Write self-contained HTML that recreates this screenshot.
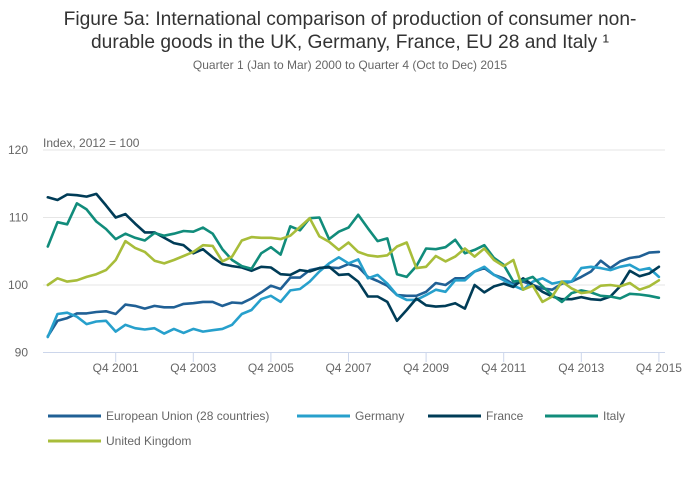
<!DOCTYPE html>
<html><head><meta charset="utf-8"><style>
body{margin:0;background:#fff;}
svg{display:block;font-family:"Liberation Sans",sans-serif;}
</style></head><body>
<svg id="chart" width="700" height="502" viewBox="0 0 700 502" xmlns="http://www.w3.org/2000/svg">
<text x="350" y="25" text-anchor="middle" font-size="19.2" fill="#333">Figure 5a: International comparison of production of consumer non-</text>
<text x="350" y="48" text-anchor="middle" font-size="19.2" fill="#333">durable goods in the UK, Germany, France, EU 28 and Italy ¹</text>
<text x="350" y="69" text-anchor="middle" font-size="12" fill="#666">Quarter 1 (Jan to Mar) 2000 to Quarter 4 (Oct to Dec) 2015</text>
<text x="43" y="147" font-size="12" fill="#666">Index, 2012 = 100</text>
<g id="grid"></g><g id="xaxis"></g><g id="series"></g><g id="legend"></g>
</svg>
<script>
const yTicks=[90,100,110,120];
const xTickLabels=["Q4 2001","Q4 2003","Q4 2005","Q4 2007","Q4 2009","Q4 2011","Q4 2013","Q4 2015"];
const xTickIdx=[7,15,23,31,39,47,55,63];
const seriesNames=["European Union (28 countries)","Germany","France","Italy","United Kingdom"];
const eu=[92.4,94.7,95.1,95.8,95.8,96.0,96.1,95.7,97.1,96.9,96.5,96.9,96.7,96.7,97.2,97.3,97.5,97.5,96.9,97.4,97.3,98.0,98.9,
99.9,99.4,101.1,101.1,102.2,102.5,102.6,102.5,103.1,102.7,101.2,100.6,99.9,98.5,98.4,98.4,99.0,100.3,100.0,101.0,
101.0,102.0,102.5,101.5,101.0,100.1,100.5,100.0,99.5,99.3,100.2,100.5,101.2,102.0,103.6,102.5,103.5,104.0,104.2,104.8,104.9];
const germany=[92.3,95.7,95.9,95.3,94.2,94.6,94.7,93.1,94.1,93.6,93.4,93.6,92.8,93.5,92.9,93.5,93.1,93.3,93.5,94.1,95.7,96.3,97.9,
98.4,97.5,99.2,99.4,100.5,102.0,103.2,104.1,103.2,103.8,101.0,101.5,100.2,98.5,97.8,97.8,98.5,99.3,99.0,100.7,
100.7,102.0,102.7,101.5,100.7,99.9,99.3,100.5,101.0,100.2,100.5,100.5,102.5,102.7,102.5,102.2,102.7,103.0,102.2,102.5,101.2];
const france=[113.0,112.6,113.4,113.3,113.1,113.5,111.8,110.0,110.5,109.1,107.8,107.8,107.0,106.2,105.9,104.7,105.3,104.1,103.1,102.8,102.6,102.1,102.7,
102.6,101.6,101.5,102.2,102.0,102.5,102.7,101.5,101.6,100.5,98.3,98.3,97.5,94.7,96.3,98.0,97.0,96.8,96.9,97.3,
96.5,100.0,98.9,99.8,100.2,99.7,101.0,100.0,99.0,98.3,97.9,97.9,98.2,97.9,97.8,98.3,99.8,102.1,101.3,101.7,102.7];
const italy=[105.7,109.3,109.0,112.1,111.2,109.4,108.3,106.8,107.6,107.0,106.6,107.7,107.3,107.6,108.0,107.9,108.5,107.6,105.3,103.7,102.8,102.4,104.7,
105.6,104.5,108.7,108.1,109.9,110.0,106.8,107.9,108.5,110.4,108.4,106.5,106.9,101.6,101.2,102.8,105.4,105.3,105.6,106.7,
104.7,105.2,105.9,104.0,103.0,100.5,100.7,101.2,99.8,98.5,97.5,98.8,99.2,98.9,98.4,98.3,98.0,98.7,98.6,98.4,98.1];
const uk=[100.0,101.0,100.5,100.7,101.2,101.6,102.2,103.7,106.5,105.5,104.9,103.6,103.2,103.7,104.3,104.9,105.9,105.8,103.5,104.2,106.6,107.1,107.0,
107.0,106.8,107.3,108.6,109.9,107.2,106.4,105.2,106.3,104.9,104.4,104.2,104.4,105.7,106.3,102.5,102.7,104.3,103.5,104.2,
105.4,104.2,105.4,103.7,102.8,103.7,99.3,99.9,97.5,98.3,100.5,99.5,98.8,99.0,99.9,100.0,99.8,100.3,99.3,99.8,100.7];
const seriesData=[eu,germany,france,italy,uk];
const colors=["#206095","#27a0cc","#003c57","#118c7b","#a8bd3a"];
const NS="http://www.w3.org/2000/svg";
const xs=i=>47.8+9.7*i;
const ys=v=>285-(v-100)*6.75;
function mk(tag,attrs,parent){const e=document.createElementNS(NS,tag);for(const k in attrs)e.setAttribute(k,attrs[k]);parent.appendChild(e);return e;}
const grid=document.getElementById('grid');
yTicks.forEach(t=>{
  if(t>90){const l=mk('line',{x1:43,x2:665,y1:ys(t),y2:ys(t),stroke:'#e6e6e6','stroke-width':1},grid);
  
  }
  const tx=mk('text',{x:28,y:ys(t)+4,'text-anchor':'end','font-size':12,fill:'#666'},grid);
  tx.textContent=t;
  
  
});
const xa=document.getElementById('xaxis');
const ax=mk('line',{x1:43,x2:665,y1:352.5,y2:352.5,stroke:'#ccd6eb','stroke-width':1},xa);


xTickIdx.forEach((q,k)=>{
  const tk=mk('line',{x1:xs(q),x2:xs(q),y1:352.5,y2:362,stroke:'#ccd6eb','stroke-width':1},xa);
  
  
  const tx=mk('text',{x:xs(q),y:372,'text-anchor':'middle','font-size':12,fill:'#666'},xa);
  tx.textContent=xTickLabels[k];
  
  
});
const sg=document.getElementById('series');
seriesData.forEach((d,s)=>{
  const p=mk('path',{d:d.map((v,i)=>(i?'L':'M')+xs(i).toFixed(1)+','+ys(v).toFixed(1)).join(''),fill:'none',stroke:colors[s],'stroke-width':2.6,'stroke-linejoin':'round','stroke-linecap':'round'},sg);
  
  
});
const lg=document.getElementById('legend');
const lpos=[[48,416],[297,416],[428,416],[545,416],[48,441]];
seriesNames.forEach((n,s)=>{
  const [x,y]=lpos[s];
  const g=mk('g',{},lg);
  
  
  mk('line',{x1:x,x2:x+53,y1:y,y2:y,stroke:colors[s],'stroke-width':3},g);
  const t=mk('text',{x:x+58,y:y+4,'font-size':12,fill:'#666'},g);
  t.textContent=n;
});
</script>
</body></html>
